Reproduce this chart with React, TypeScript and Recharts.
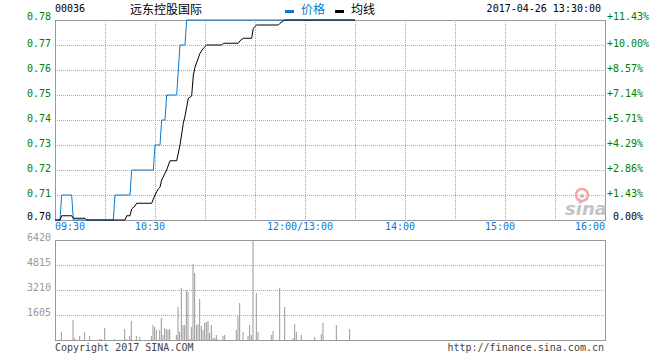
import {
  Bar,
  BarChart,
  CartesianGrid,
  Line,
  LineChart,
  ReferenceArea,
  XAxis,
  YAxis,
} from "recharts";

const stockCode = "00036";
const stockName = "远东控股国际";
const stamp = "2017-04-26 13:30:00";
const prevClose = 0.7;

// minutes since 09:30, lunch break removed (0..330)
const pricePoints = [
  [0, 0.7], [3, 0.7], [4, 0.71], [10, 0.71], [11, 0.7], [35, 0.7],
  [36, 0.71], [45, 0.71], [46, 0.72], [59, 0.72], [60, 0.73], [63, 0.73],
  [64, 0.74], [66, 0.74], [67, 0.75], [73, 0.75], [74, 0.76], [75, 0.77],
  [78, 0.77], [79, 0.78], [180, 0.78],
];

const avgPoints = [
  [0, 0.7], [3, 0.7], [4, 0.7017], [10, 0.7017], [11, 0.7007], [18, 0.7007],
  [19, 0.7], [42, 0.7], [43, 0.7017], [45, 0.7017], [46, 0.7044], [48, 0.7056],
  [49, 0.7067], [58, 0.7067], [60, 0.71], [62, 0.7125], [63, 0.7131], [64, 0.716],
  [67, 0.72], [69, 0.7237], [73, 0.7237], [75, 0.73], [77, 0.7387], [78, 0.7416],
  [80, 0.7487], [82, 0.7496], [83, 0.758], [84, 0.7611], [87, 0.7667], [89, 0.7687],
  [91, 0.77], [100, 0.77], [101, 0.7707], [110, 0.7707], [111, 0.7717], [113, 0.7727],
  [118, 0.7727], [119, 0.7767], [121, 0.778], [134, 0.778], [135, 0.7787], [137, 0.7797],
  [138, 0.78], [180, 0.78],
];

const volumePoints = [
  [4, 535], [11, 1284], [12, 150], [15, 257], [18, 514], [21, 257], [27, 64], [28, 64],
  [30, 770], [36, 64], [42, 706], [43, 64], [45, 257], [46, 1220], [49, 257], [51, 193],
  [58, 257], [59, 963], [60, 835], [61, 642], [63, 642], [64, 1412], [65, 321], [66, 770],
  [67, 706], [68, 642], [69, 706], [73, 321], [74, 2119], [75, 514], [76, 3338], [77, 963],
  [78, 963], [79, 3189], [80, 3082], [81, 64], [82, 835], [83, 4879], [84, 4301], [85, 963],
  [86, 1027], [87, 2632], [88, 899], [89, 642], [90, 1091], [91, 1156], [92, 1220], [93, 449],
  [94, 963], [95, 128], [96, 128], [97, 321], [98, 64], [101, 257], [102, 321], [109, 642],
  [110, 1541], [111, 2375], [113, 514], [116, 257], [117, 963], [118, 321], [119, 7000],
  [121, 3017], [122, 514], [130, 321], [131, 578], [135, 3338], [138, 2119], [143, 128],
  [144, 1027], [145, 514], [148, 321], [156, 193], [160, 385], [161, 1091], [169, 963],
  [177, 706],
];

const priceTicks = [0.7, 0.71, 0.72, 0.73, 0.74, 0.75, 0.76, 0.77, 0.78];
const volumeTicks = [0, 1605, 3210, 4815, 6420];
const gridMinutes = [0, 30, 60, 90, 120, 150, 180, 210, 240, 270, 300, 330];
const timeTickMinutes = [0, 60, 150, 210, 270, 330];
const timeTickLabels = ["09:30", "10:30", "12:00/13:00", "14:00", "15:00", "16:00"];

const mono = "'DejaVu Sans Mono', monospace";
const cjk = "'Noto Sans CJK SC', sans-serif";
const blue = "#0a7ad0";
const green = "#008000";
const frame = "#999";

const allMinutes = Array.from(
  new Set([...pricePoints.map((p) => p[0]), ...avgPoints.map((p) => p[0])])
).sort((a, b) => a - b);
const lineData = allMinutes.map((m) => ({
  m,
  price: pricePoints.find((p) => p[0] === m)?.[1],
  avg: avgPoints.find((p) => p[0] === m)?.[1],
}));
const volumeData = volumePoints.map(([m, v]) => ({ m, v }));

function PriceTick({ x, y, payload }: any) {
  const v = payload.value;
  const edge = v === priceTicks[0] || v === priceTicks[priceTicks.length - 1];
  return (
    <text x={x} y={y + (edge ? 0 : 2)} textAnchor="end" fontFamily={mono} fontSize={10}
      fill={v > prevClose ? green : "#000"}>
      {v.toFixed(2)}
    </text>
  );
}

function PctTick({ x, y, payload }: any) {
  const v = payload.value;
  const pct = (v / prevClose - 1) * 100;
  const edge = v === priceTicks[0] || v === priceTicks[priceTicks.length - 1];
  const up = pct > 0.001;
  return (
    <text x={x + (up ? 0 : 6)} y={y + (edge ? 0 : 2)} textAnchor="start" fontFamily={mono}
      fontSize={10} fill={up ? green : "#000"}>
      {up ? `+${pct.toFixed(2)}%` : "0.00%"}
    </text>
  );
}

function TimeTick({ x, y, payload }: any) {
  const i = timeTickMinutes.indexOf(payload.value);
  if (i < 0) return <g />;
  const anchor = i === 0 ? "start" : i === timeTickMinutes.length - 1 ? "end" : "middle";
  return (
    <text x={x + (anchor === "middle" ? -5 : 0)} y={y + 10} textAnchor={anchor}
      fontFamily={mono} fontSize={10} fill={blue}>
      {timeTickLabels[i]}
    </text>
  );
}

function VolumeTick({ x, y, payload }: any) {
  if (payload.value === 0) return <g />;
  return (
    <text x={x} y={y + 1} textAnchor="end" fontFamily={mono} fontSize={10} fill="#999">
      {payload.value}
    </text>
  );
}

export default function App() {
  return (
    <div style={{ position: "fixed", left: 0, top: 0, width: 660, height: 360, background: "#fff" }}>
      <div style={{ position: "absolute", left: 0, top: 0 }}>
        <LineChart width={660} height={235} data={lineData}
          margin={{ top: 20, right: 0, bottom: 0, left: 0 }}>
          <CartesianGrid stroke="#aaa" strokeDasharray="1 1" shapeRendering="crispEdges" />
          <XAxis dataKey="m" type="number" domain={[0, 330]} ticks={gridMinutes} interval={0}
            height={15} tickSize={0} tickMargin={0} axisLine={false} tickLine={false}
            tick={<TimeTick />} />
          <YAxis domain={[0.7, 0.78]} ticks={priceTicks} interval={0} width={55}
            tickSize={0} tickMargin={4} axisLine={false} tickLine={false} tick={<PriceTick />} />
          <YAxis yAxisId="r" orientation="right" domain={[0.7, 0.78]} ticks={priceTicks}
            allowDataOverflow interval={0} width={55} tickSize={0} tickMargin={2}
            axisLine={false} tickLine={false} tick={<PctTick />} />
          <ReferenceArea x1={0} x2={330} y1={0.7} y2={0.78} fill="none" stroke={frame}
            strokeWidth={1} shapeRendering="crispEdges" />
          {/* invisible copy so the percent axis gets a series */}
          <Line yAxisId="r" dataKey="price" type="linear" stroke="none" dot={false}
            activeDot={false} legendType="none" connectNulls isAnimationActive={false} />
          <Line dataKey="price" type="linear" stroke={blue} strokeWidth={1} dot={false}
            activeDot={false} connectNulls isAnimationActive={false} />
          <Line dataKey="avg" type="linear" stroke="#000" strokeWidth={1} dot={false}
            activeDot={false} connectNulls isAnimationActive={false} />
        </LineChart>
      </div>
      <div style={{ position: "absolute", left: 0, top: 230 }}>
        <BarChart width={660} height={125} data={volumeData}
          margin={{ top: 10, right: 55, bottom: 15, left: 0 }}>
          <CartesianGrid stroke="#aaa" strokeDasharray="1 1" shapeRendering="crispEdges" />
          <XAxis dataKey="m" type="number" domain={[0, 330]} ticks={gridMinutes} interval={0}
            height={0} tick={false} axisLine={false} tickLine={false} />
          <YAxis domain={[0, 6420]} ticks={volumeTicks} interval={0} width={55}
            allowDataOverflow tickSize={0} tickMargin={4} axisLine={false} tickLine={false}
            tick={<VolumeTick />} />
          <ReferenceArea x1={0} x2={330} y1={0} y2={6420} fill="none" stroke={frame}
            strokeWidth={1} shapeRendering="crispEdges" />
          <Bar dataKey="v" fill="#999" barSize={1} isAnimationActive={false} />
        </BarChart>
      </div>
      <svg width={660} height={360}
        style={{ position: "absolute", left: 0, top: 0, pointerEvents: "none" }}>
        <text x={55} y={12} fontFamily={mono} fontSize={10} fill="#000">{stockCode}</text>
        <text x={130} y={14} fontFamily={cjk} fontSize={12} fill="#000">{stockName}</text>
        <rect x={285} y={10} width={9} height={3} fill={blue} />
        <text x={301} y={14} fontFamily={cjk} fontSize={12} fill={blue}>价格</text>
        <rect x={335} y={10} width={9} height={3} fill="#000" />
        <text x={351} y={14} fontFamily={cjk} fontSize={12} fill="#000">均线</text>
        <text x={601} y={12} textAnchor="end" fontFamily={mono} fontSize={10} fill="#000">{stamp}</text>
        <circle cx={582} cy={195} r={6} fill="none" stroke="#f4a6a6" strokeWidth={2.5} />
        <circle cx={582} cy={196} r={2} fill="#bbb" />
        <text x={586} y={215} textAnchor="middle" fontFamily="'DejaVu Sans', sans-serif"
          fontSize={18} fontWeight="bold" fontStyle="italic" fill="#c4c4c4">sina</text>
        <text x={55} y={351} fontFamily={mono} fontSize={10} fill="#444">Copyright 2017 SINA.COM</text>
        <text x={604} y={351} textAnchor="end" fontFamily={mono} fontSize={10} fill="#444">
          http://finance.sina.com.cn
        </text>
      </svg>
    </div>
  );
}
